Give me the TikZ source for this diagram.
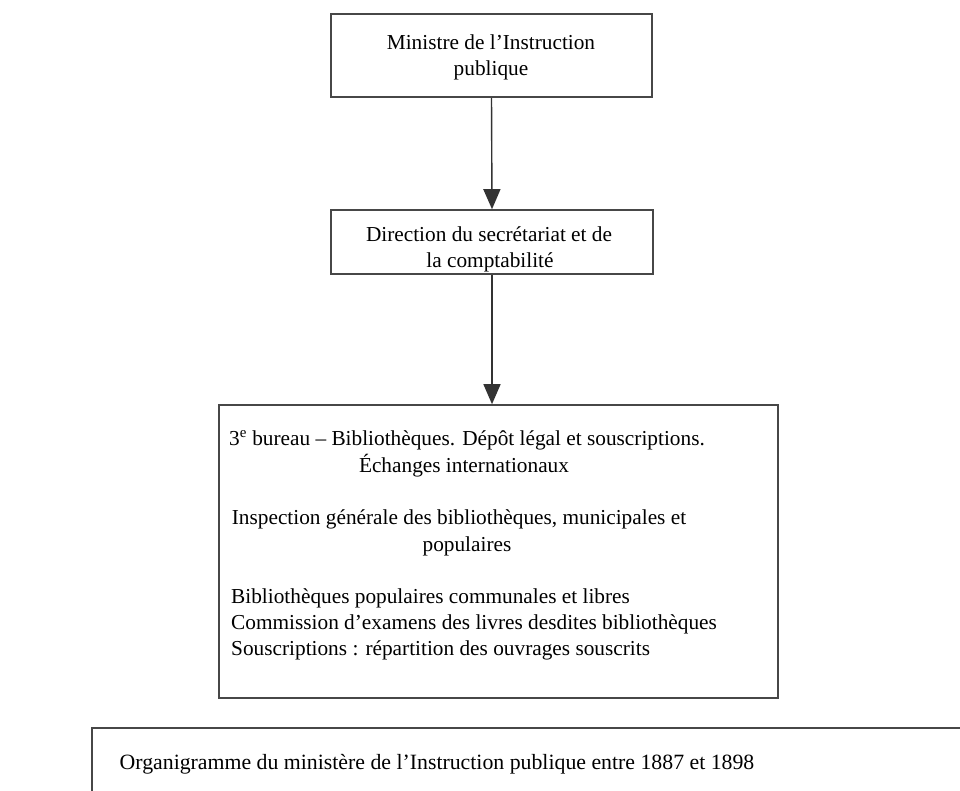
\documentclass[tikz,border=0pt]{standalone}
\usepackage{fontspec}
\setmainfont{Liberation Serif}
\usetikzlibrary{arrows.meta}
\begin{document}
\begin{tikzpicture}[x=1pt,y=-1pt,
  boxline/.style={draw=black!72,line width=1.6pt},
  orgbox/.style={boxline,rectangle,inner sep=0pt},
  txt/.style={inner sep=0pt,anchor=mid,font=\fontsize{21.3}{26.5}\selectfont},
  ltxt/.style={txt,anchor=mid west},
  link/.style={draw=black!80,line width=1.4pt,-{Triangle[length=20pt,width=17pt]}}]
\useasboundingbox (0,0) rectangle (960,791);
\clip (0,0) rectangle (960,791);
% boxes
\node[orgbox,minimum width=321pt,minimum height=83pt] (b1) at (491.5,55.5) {};
\node[orgbox,minimum width=322pt,minimum height=64pt] (b2) at (492,242) {};
\node[orgbox,minimum width=559pt,minimum height=293pt] (b3) at (498.5,551.5) {};
\node[orgbox,minimum width=900pt,minimum height=100pt,anchor=north west] (b4) at (91,727) {};
% texts
\node[txt] (t1a) at (491,47) {Ministre de l’Instruction};
\node[txt] (t1b) at (491,73) {publique};
\node[txt] (t2a) at (489,239) {Direction du secrétariat et de};
\node[txt] (t2b) at (490,265.5) {la comptabilité};
\node[txt] (t3a) at (467,443) {3\textsuperscript{e} bureau – Bibliothèques. Dépôt légal et souscriptions.};
\node[txt] (t3b) at (464,470) {Échanges internationaux};
\node[txt] (t3c) at (459,522) {Inspection générale des bibliothèques, municipales et};
\node[txt] (t3d) at (467,549) {populaires};
\node[ltxt] (t3e) at (231,601) {Bibliothèques populaires communales et libres};
\node[ltxt] (t3f) at (231,627) {Commission d’examens des livres desdites bibliothèques};
\node[ltxt] (t3g) at (231,653) {Souscriptions : répartition des ouvrages souscrits};
\node[txt,font=\fontsize{21.8}{26.5}\selectfont] (cap) at (437,767) {Organigramme du ministère de l’Instruction publique entre 1887 et 1898};
% connectors
\draw[link] (b1.south) -- (b2.north);
\draw[link] (b2.south) -- (b3.north -| b2.south);
\end{tikzpicture}
\end{document}
